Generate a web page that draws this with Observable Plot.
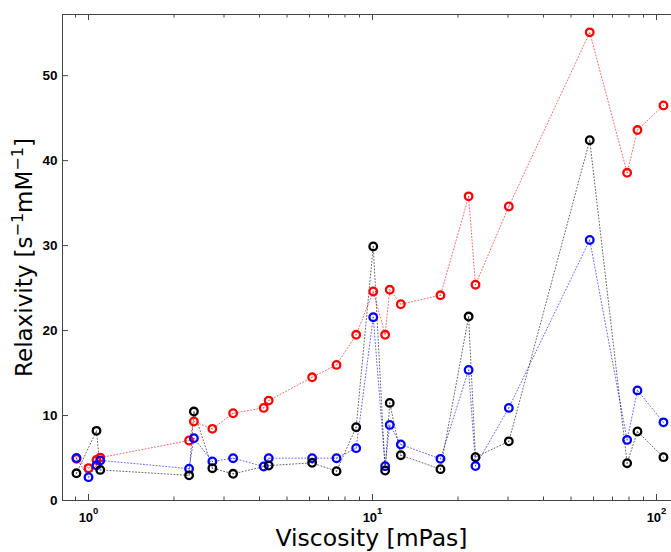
<!DOCTYPE html>
<html><head><meta charset="utf-8">
<script src="https://cdn.jsdelivr.net/npm/d3@7"></script>
<script src="https://cdn.jsdelivr.net/npm/@observablehq/plot@0.6"></script>
<style>html,body{margin:0;padding:0;overflow:hidden;background:#fff} svg{max-width:none !important;}</style>
</head><body><div id="chart"></div>
<script>
// ---- data ----
const viscosity = [0.907, 1.0, 1.067, 1.10, 2.26, 2.35, 2.73, 3.23, 4.14, 4.31, 6.13, 7.47, 8.76, 10.06, 11.08, 11.5, 12.58, 17.35, 21.8, 23.05, 30.2, 58.2, 78.8, 85.7, 105.8];
const relaxRed   = [4.9, 3.8, 4.76, 5.05, 7.06, 9.3, 8.43, 10.27, 10.9, 11.76, 14.5, 15.96, 19.5, 24.6, 19.5, 24.8, 23.1, 24.15, 35.8, 25.4, 34.6, 55.1, 38.57, 43.6, 46.5];
const relaxBlue  = [5.0, 2.75, 4.14, 4.72, 3.75, 7.33, 4.6, 4.98, 4.0, 4.98, 4.98, 4.98, 6.16, 21.57, 4.04, 8.9, 6.59, 4.9, 15.37, 4.06, 10.9, 30.66, 7.13, 12.96, 9.2];
const relaxBlack = [3.2, null, 8.2, 3.6, 2.96, 10.47, 3.8, 3.14, null, 4.12, 4.43, 3.45, 8.63, 29.9, 3.53, 11.49, 5.33, 3.69, 21.65, 5.1, 6.96, 42.4, 4.39, 8.12, 5.1];

const xMajorTicks = [1, 10, 100];
const xMajorLabels = ["10^0", "10^1", "10^2"];
const xMinorTicks = [0.9, 2, 3, 4, 5, 6, 7, 8, 9, 20, 30, 40, 50, 60, 70, 80, 90];
const yTicks = [0, 10, 20, 30, 40, 50];
const xTitle = "Viscosity [mPas]";
const yTitle = "Relaxivity [s^-1mM^-1]";

const series = [
  {name: "red", color: "#ff0000", values: relaxRed},
  {name: "blue", color: "#0000ff", values: relaxBlue},
  {name: "black", color: "#000000", values: relaxBlack}
];
const rows = s => viscosity.map((v, i) => ({x: v, y: s.values[i]})).filter(d => d.y != null);

const W = 680, H = 552, mL = 62, mT = 14, mB = 52, mR = 0;
const pw = W - mL - mR, ph = H - mT - mB;
const axisColor = "#444";
const font = "'Liberation Sans', Arial, Helvetica, sans-serif";
const titleFont = "'DejaVu Sans', Verdana, sans-serif";

const marks = [];
marks.push(Plot.frame({stroke: axisColor, strokeWidth: 1}));
marks.push(Plot.tickX(xMinorTicks, {x: d => d, insetTop: ph - 3.5, stroke: axisColor}));
marks.push(Plot.tickX(xMajorTicks, {x: d => d, insetTop: ph - 6, stroke: axisColor}));
marks.push(Plot.tickX(xMinorTicks, {x: d => d, insetBottom: ph - 3.5, stroke: axisColor}));
marks.push(Plot.tickX(xMajorTicks, {x: d => d, insetBottom: ph - 6, stroke: axisColor}));
marks.push(Plot.tickY(yTicks, {y: d => d, insetRight: pw - 6, stroke: axisColor}));
for (const s of series) {
  marks.push(Plot.line(rows(s), {x: "x", y: "y", stroke: s.color, strokeWidth: 1, strokeOpacity: 0.6, strokeDasharray: "1,2.2"}));
}
for (const s of series) {
  marks.push(Plot.dot(rows(s), {x: "x", y: "y", r: 3.8, stroke: s.color, strokeWidth: 2.3, fill: "none"}));
  marks.push(Plot.dot(rows(s), {x: "x", y: "y", r: 0.7, fill: s.color, fillOpacity: 0.5}));
}
marks.push(Plot.axisX({ticks: xMajorTicks, tickSize: 0, tickPadding: 12, fontSize: 13, fontWeight: "bold", fill: "#000",
  tickFormat: d => xMajorLabels[xMajorTicks.indexOf(d)], label: null}));
marks.push(Plot.axisY({ticks: yTicks, tickSize: 0, tickPadding: 5, fontSize: 13.5, fontWeight: "bold", fill: "#000", label: null}));
marks.push(Plot.text([xTitle], {text: d => d, frameAnchor: "bottom", textAnchor: "middle", lineAnchor: "middle", dy: 38, fontSize: 23.5, fontFamily: titleFont, fill: "#000"}));
marks.push(Plot.text([yTitle], {text: d => d, frameAnchor: "left", textAnchor: "middle", lineAnchor: "middle", dx: -38, rotate: -90, fontSize: 23, fontFamily: titleFont, fill: "#000"}));

const svg = Plot.plot({
  width: W, height: H,
  marginLeft: mL, marginRight: mR, marginTop: mT, marginBottom: mB,
  style: {fontFamily: font, background: "#fff", overflow: "visible", maxWidth: "none"},
  x: {type: "log", domain: [Math.pow(10, (mL - 88) / 284), Math.pow(10, (W - 88) / 284)]},
  y: {domain: [0, 57.2]},
  marks
});
svg.style.maxWidth = "none";

// superscripts
d3.select(svg).selectAll("text").each(function() {
  const t = this.textContent;
  if (!t.includes("^")) return;
  const sel = d3.select(this);
  const parts = t.split(/\^(-?\d+)/);
  sel.text(null);
  const isAxis = /^10\^/.test(t);
  const supSize = isAxis ? 9.5 : 16;
  const rise = isAxis ? 8 : 9;
  parts.forEach((p, i) => {
    if (p === "") return;
    if (i % 2 === 1) {
      sel.append("tspan").attr("font-size", supSize).attr("dy", -rise).text(p.replace("-", "\u2212"));
    } else {
      const ts = sel.append("tspan").text(p);
      if (i > 0) ts.attr("dy", rise);
    }
  });
});

document.getElementById("chart").appendChild(svg);
</script>
</body></html>
